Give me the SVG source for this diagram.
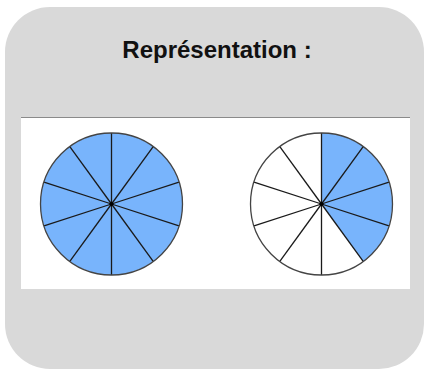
<svg xmlns="http://www.w3.org/2000/svg" width="425" height="369" viewBox="0 0 425 369">
<style>
.title{font-family:"Liberation Sans",Arial,sans-serif;font-weight:bold;font-size:24px;fill:#111}
.spoke{stroke:#1a1a1a;stroke-width:1.3;fill:none}
.rim{stroke:#444;stroke-width:1.3;fill:none}
.blue{fill:#78B4FC}
</style>
<defs>
<g id="spokes">
<line class="spoke" x1="0" y1="0" x2="0" y2="-71"/>
<line class="spoke" x1="0" y1="0" x2="41.7" y2="-57.4"/>
<line class="spoke" x1="0" y1="0" x2="67.5" y2="-21.9"/>
<line class="spoke" x1="0" y1="0" x2="67.5" y2="21.9"/>
<line class="spoke" x1="0" y1="0" x2="41.7" y2="57.4"/>
<line class="spoke" x1="0" y1="0" x2="0" y2="71"/>
<line class="spoke" x1="0" y1="0" x2="-41.7" y2="57.4"/>
<line class="spoke" x1="0" y1="0" x2="-67.5" y2="21.9"/>
<line class="spoke" x1="0" y1="0" x2="-67.5" y2="-21.9"/>
<line class="spoke" x1="0" y1="0" x2="-41.7" y2="-57.4"/>
<circle cx="0" cy="0" r="2" fill="#000"/>
</g>
</defs>
<g id="panel">
<rect x="5" y="7" width="419" height="362" rx="45" ry="45" fill="#D9D9D9"/>
<rect x="21" y="117" width="389" height="172" fill="#FFFFFF"/>
<line x1="21" y1="117.5" x2="410" y2="117.5" stroke="#8a8a8a" stroke-width="1"/>
</g>
<g id="title">
<text class="title" x="217" y="58" text-anchor="middle">Représentation :</text>
</g>
<g id="pie-full" transform="translate(111.5,204)">
<circle class="blue" cx="0" cy="0" r="71"/>
<use href="#spokes"/>
<circle class="rim" cx="0" cy="0" r="71"/>
</g>
<g id="pie-part" transform="translate(321.5,204)">
<circle cx="0" cy="0" r="71" fill="#FFFFFF"/>
<path class="blue" d="M0,0 L0,-71 A71,71 0 0 1 41.7,57.4 Z"/>
<use href="#spokes"/>
<circle class="rim" cx="0" cy="0" r="71"/>
</g>
<g id="connectors"></g>
</svg>
